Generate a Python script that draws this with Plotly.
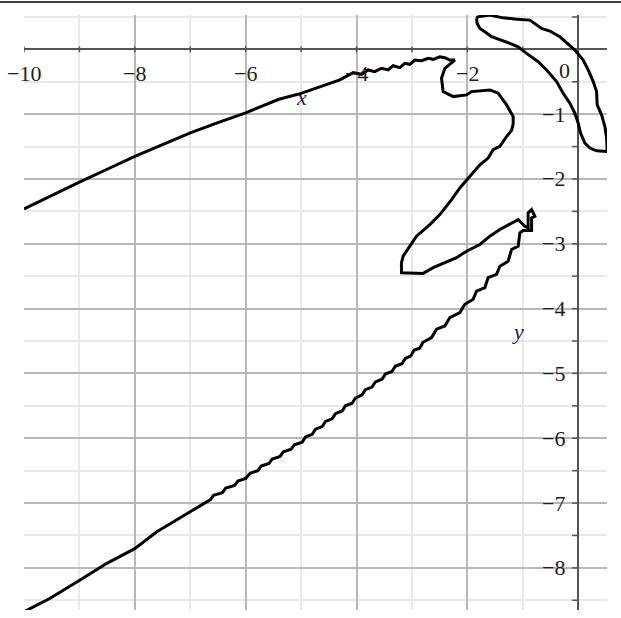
import plotly.graph_objects as go

# Closed loop near the origin
loop_x = [-1.834, -1.810, -1.594, -1.359, -1.112, -0.872, -0.661, -0.511, -0.330, -0.150,
          -0.060, 0.090, 0.181, 0.271, 0.332, 0.343, 0.422, 0.482, 0.513, 0.523,
          0.332, 0.211, 0.121, 0.043, 0.000, -0.060, -0.150, -0.271, -0.390, -0.570,
          -0.722, -0.931, -1.083, -1.233, -1.413, -1.563, -1.684, -1.774, -1.823, -1.834]
loop_y = [0.477, 0.502, 0.528, 0.486, 0.466, 0.451, 0.323, 0.282, 0.194, 0.066,
          -0.011, -0.165, -0.318, -0.498, -0.652, -0.857, -1.011, -1.191, -1.369, -1.575,
          -1.565, -1.523, -1.446, -1.292, -1.138, -0.985, -0.831, -0.677, -0.498, -0.318,
          -0.191, -0.062, 0.040, 0.092, 0.143, 0.194, 0.271, 0.323, 0.400, 0.477]

# Long open branch: upper arm, fold, inner tongue and stepped lower arm
branch_x = [-10.0, -9.5, -9.0, -8.5, -8.0, -7.5, -7.0, -6.5, -6.0, -5.75,
            -5.4, -5.0, -4.66, -4.3, -4.06, -3.910, -3.791, -3.670, -3.549, -3.430,
            -3.339, -3.218, -3.128, -3.038, -2.948, -2.827, -2.708, -2.617, -2.496, -2.406,
            -2.316, -2.226, -2.406, -2.466, -2.437, -2.256, -2.015, -1.924, -1.594, -1.444,
            -1.292, -1.173, -1.173, -1.202, -1.292, -1.413, -1.534, -1.625, -1.774, -1.986,
            -2.135, -2.285, -2.496, -2.677, -2.917, -3.038, -3.159, -3.190, -3.188, -2.798,
            -2.617, -2.195, -2.015, -1.774, -1.594, -1.413, -1.083, -0.962, -0.903, -0.903,
            -0.841, -0.782, -0.841, -0.841, -0.993, -1.052, -1.083, -1.202, -1.264, -1.413,
            -1.473, -1.625, -1.684, -1.834, -1.895, -2.045, -2.135, -2.316, -2.406, -2.556,
            -2.646, -2.80, -2.86, -2.96, -3.02, -3.12, -3.18, -3.30, -3.36, -3.48,
            -3.54, -3.66, -3.72, -3.84, -3.90, -4.02, -4.08, -4.20, -4.26, -4.38,
            -4.44, -4.56, -4.62, -4.74, -4.80, -4.92, -4.98, -5.12, -5.18, -5.32,
            -5.38, -5.52, -5.58, -5.72, -5.78, -5.92, -6.00, -6.14, -6.20, -6.36,
            -6.42, -6.58, -6.64, -7.009, -7.610, -8.002, -8.513, -8.995, -9.536, -10.0]
branch_y = [-2.46, -2.25, -2.05, -1.85, -1.65, -1.47, -1.29, -1.13, -0.98, -0.89,
            -0.77, -0.68, -0.575, -0.47, -0.36, -0.385, -0.318, -0.345, -0.292, -0.318,
            -0.252, -0.283, -0.215, -0.231, -0.165, -0.175, -0.138, -0.154, -0.114, -0.129,
            -0.165, -0.165, -0.292, -0.446, -0.652, -0.729, -0.703, -0.652, -0.626, -0.677,
            -0.857, -1.037, -1.150, -1.250, -1.345, -1.498, -1.549, -1.677, -1.780, -1.985,
            -2.138, -2.318, -2.549, -2.703, -2.883, -3.037, -3.191, -3.300, -3.446, -3.457,
            -3.369, -3.215, -3.114, -3.011, -2.883, -2.780, -2.626, -2.729, -2.754, -2.523,
            -2.472, -2.575, -2.600, -2.795, -2.795, -2.831, -3.037, -3.088, -3.268, -3.345,
            -3.472, -3.523, -3.677, -3.729, -3.857, -3.934, -4.062, -4.138, -4.268, -4.318,
            -4.446, -4.52, -4.61, -4.64, -4.73, -4.77, -4.85, -4.89, -4.97, -5.01,
            -5.09, -5.13, -5.21, -5.25, -5.33, -5.38, -5.46, -5.50, -5.58, -5.62,
            -5.70, -5.74, -5.82, -5.86, -5.94, -5.98, -6.06, -6.10, -6.17, -6.21,
            -6.28, -6.32, -6.39, -6.43, -6.50, -6.54, -6.62, -6.66, -6.73, -6.77,
            -6.84, -6.88, -6.95, -7.138, -7.446, -7.703, -7.934, -8.191, -8.472, -8.677]

# Axis ticks and labels
x_tick_pos = [-10, -9, -8, -7, -6, -5, -4, -3, -2, -1]
x_label_vals = [-10, -8, -6, -4, -2]
y_tick_pos = [0.5, -0.5, -1, -1.5, -2, -2.5, -3, -3.5, -4, -4.5, -5, -5.5, -6,
              -6.5, -7, -7.5, -8, -8.5]
y_label_vals = [-1, -2, -3, -4, -5, -6, -7, -8]

X_RANGE = [-10, 0.52]
Y_RANGE = [-8.65, 0.53]
W, H = 621, 618
M = dict(l=24, r=14, t=15, b=8)

LABEL_FONT = dict(family="Liberation Serif, Times New Roman, serif", size=22, color="#1e1e1e")
AXIS_COLOR = "#555555"

fig = go.Figure()

# Tick marks drawn on the axes through the origin
tx, ty = [], []
for v in x_tick_pos:
    tx += [v, v, None]
    ty += [-0.045, 0.045, None]
for v in y_tick_pos:
    tx += [-0.11, 0, None]
    ty += [v, v, None]
fig.add_trace(go.Scatter(x=tx, y=ty, mode="lines",
                         line=dict(color=AXIS_COLOR, width=1.5),
                         hoverinfo="skip", showlegend=False))

fig.add_trace(go.Scatter(x=loop_x, y=loop_y, mode="lines",
                         line=dict(color="black", width=3),
                         showlegend=False))
fig.add_trace(go.Scatter(x=branch_x, y=branch_y, mode="lines",
                         line=dict(color="black", width=3),
                         showlegend=False))

def fmt(v):
    return ("\u2212" + str(abs(v))) if v < 0 else str(v)

ann = []
for v in x_label_vals:
    ann.append(dict(x=v, y=0, xref="x", yref="y", text=fmt(v), showarrow=False,
                    yshift=-24, xanchor="center", yanchor="middle", font=LABEL_FONT))
ann.append(dict(x=0, y=0, xref="x", yref="y", text="0", showarrow=False,
                xshift=-14, yshift=-21, xanchor="center", yanchor="middle", font=LABEL_FONT))
for v in y_label_vals:
    ann.append(dict(x=0, y=v, xref="x", yref="y", text=fmt(v), showarrow=False,
                    xshift=-11, xanchor="right", yanchor="middle", font=LABEL_FONT))
ann.append(dict(x=-5, y=0, xref="x", yref="y", text="<i>x</i>", showarrow=False,
                yshift=-48, xanchor="center", yanchor="middle",
                font=dict(LABEL_FONT, color="#1c1c50")))
ann.append(dict(x=0, y=-4.36, xref="x", yref="y", text="<i>y</i>", showarrow=False,
                xshift=-60, xanchor="center", yanchor="middle",
                font=dict(LABEL_FONT, color="#1c1c50")))

pw = W - M["l"] - M["r"]
ph = H - M["t"] - M["b"]

fig.update_layout(
    width=W, height=H, autosize=False, margin=M,
    paper_bgcolor="white", plot_bgcolor="white",
    annotations=ann,
    shapes=[dict(type="line", xref="paper", yref="paper",
                 x0=-M["l"] / pw, x1=1 + M["r"] / pw,
                 y0=1 + (M["t"] - 2) / ph, y1=1 + (M["t"] - 2) / ph,
                 line=dict(color="black", width=1.5))],
    xaxis=dict(range=X_RANGE, tick0=0, dtick=2, showticklabels=False, ticks="",
               showgrid=True, gridcolor="#b8b8b8", gridwidth=1.5,
               minor=dict(dtick=1, tick0=0, showgrid=True, gridcolor="#e8e8e8", gridwidth=1.5),
               zeroline=True, zerolinecolor=AXIS_COLOR, zerolinewidth=2.2,
               showline=False, fixedrange=True),
    yaxis=dict(range=Y_RANGE, tick0=0, dtick=1, showticklabels=False, ticks="",
               showgrid=True, gridcolor="#b8b8b8", gridwidth=1.5,
               minor=dict(dtick=0.5, tick0=0, showgrid=True, gridcolor="#e8e8e8", gridwidth=1.5),
               zeroline=True, zerolinecolor=AXIS_COLOR, zerolinewidth=2.2,
               showline=False, fixedrange=True),
)

fig.write_html("out.html")
